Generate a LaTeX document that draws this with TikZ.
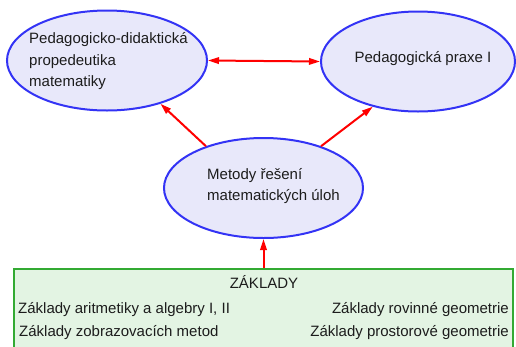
\documentclass[tikz,border=0pt]{standalone}
\usepackage{fontspec}
\setmainfont{Liberation Sans}
\usetikzlibrary{shapes.geometric,arrows.meta}
\definecolor{ellfill}{HTML}{E8E8FA}
\definecolor{elldraw}{HTML}{3333F5}
\definecolor{boxfill}{HTML}{E3F4E3}
\definecolor{boxdraw}{HTML}{33AA33}
\definecolor{txt}{HTML}{1C1C1C}
\definecolor{arr}{HTML}{FF0000}
\tikzset{
  subj/.style={ellipse, draw=elldraw, fill=ellfill, line width=2pt, inner sep=0pt},
  lbl/.style={text=txt, font=\fontsize{15}{21.5}\selectfont, inner sep=0pt},
  link/.style={draw=arr, line width=2pt, -{Triangle[length=11pt,width=6.5pt]}},
}
\begin{document}
\begin{tikzpicture}[x=1pt,y=-1pt]
\useasboundingbox (0,0) rectangle (516,346);
% ellipses
\node[subj, minimum width=200pt, minimum height=100pt] (ppm) at (107,60.5) {};
\node[subj, minimum width=194pt, minimum height=100pt] (prax) at (418,61.5) {};
\node[subj, minimum width=199pt, minimum height=100pt] (met) at (263.5,188) {};
% foundation box
\node[draw=boxdraw, fill=boxfill, line width=1.8pt, minimum width=499pt, minimum height=100pt, anchor=north, inner sep=0pt] (base) at (263.5,268) {};
% texts
\node[lbl, align=left, anchor=west] (tppm) at (29,61.5) {Pedagogicko-didaktická\\propedeutika\\matematiky};
\node[lbl] (tprax) at (423,59) {Pedagogická praxe I};
\node[lbl, align=left, anchor=west] (tmet) at (207,186) {Metody řešení\\matematických úloh};
\node[lbl] (tzak) at (264,282) {ZÁKLADY};
\node[lbl, anchor=west] (z1) at (18,310) {Základy aritmetiky a algebry I, II};
\node[lbl, anchor=west] (z2) at (19,333) {Základy zobrazovacích metod};
\node[lbl, anchor=east] (z3) at (509,310) {Základy rovinné geometrie};
\node[lbl, anchor=east] (z4) at (509,333) {Základy prostorové geometrie};
% connectors
\draw[link, {Triangle[length=11pt,width=6.5pt]}-{Triangle[length=11pt,width=6.5pt]}] (ppm.east) -- (prax.west);
\draw[link] (met.144) -- (ppm.-39);
\draw[link] (met.36) -- (prax.-135);
\draw[link] (base.north -| met.south) -- (met.south);
\end{tikzpicture}
\end{document}
